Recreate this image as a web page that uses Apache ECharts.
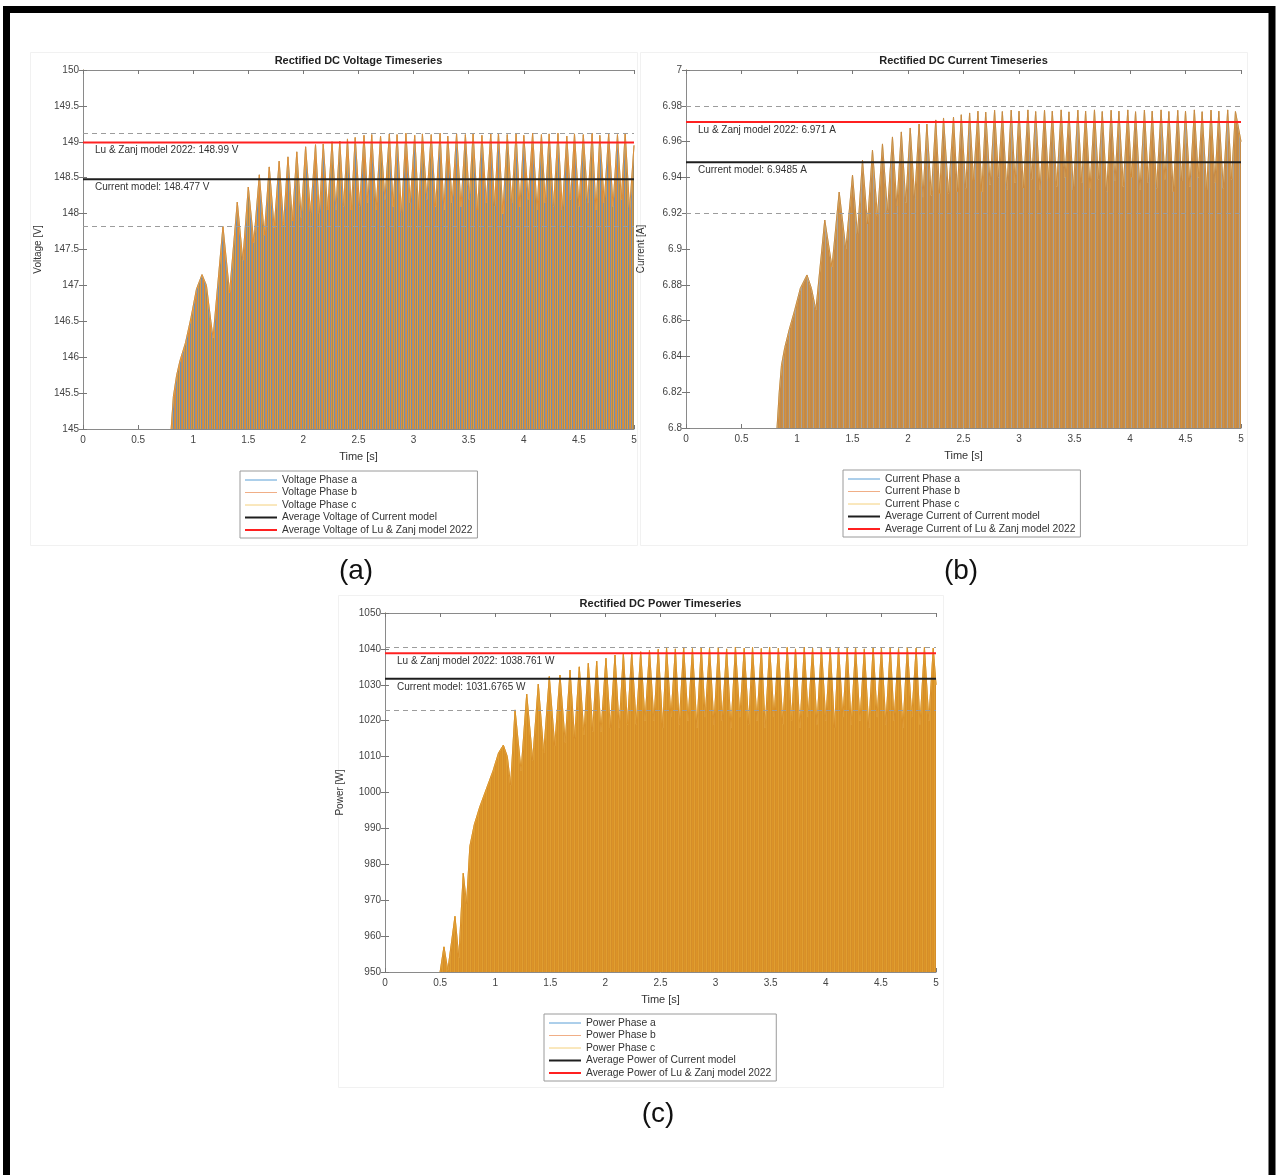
<!DOCTYPE html>
<html><head><meta charset="utf-8">
<script src="https://cdn.jsdelivr.net/npm/echarts@6/dist/echarts.min.js"></script>
<style>html,body{margin:0;padding:0;background:#fff}#c{width:1276px;height:1175px}</style>
</head><body><div id="c"></div><script>
// ---------- DATA ----------
const timeAxis = [0, 5, 0.5];           // min, max, interval
const voltageAxis = [145, 150, 0.5];
const currentAxis = [6.8, 7, 0.02];
const powerAxis = [950, 1050, 10];

const voltageAvg = [148.477, 148.99];   // [Current model, Lu & Zanj 2022]
const currentAvg = [6.9485, 6.971];
const powerAvg = [1031.6765, 1038.761];

const voltageBand = [149.12, 147.83];   // dashed max / min of steady ripple
const currentBand = [6.9777, 6.9168];
const powerBand = [1040.5, 1023.0];

// envelope of the dense three-phase ripple [time s, value]
const voltageEnvelope = [
[0.80,145.00],[0.82,145.45],[0.85,145.75],[0.88,145.95],[0.93,146.20],[0.98,146.55],[1.03,146.95],[1.08,147.15],[1.12,147.00],[1.16,146.50],[1.18,146.27],
[1.27,147.82],[1.33,146.90],[1.40,148.16],[1.45,147.35],[1.50,148.37],[1.55,147.60],[1.60,148.54],[1.645,147.70],[1.69,148.65],[1.735,147.80],[1.78,148.73],[1.82,147.85],[1.86,148.79],[1.90,147.90],[1.94,148.86],[1.98,147.95],[2.02,148.93],[2.065,148.00],[2.11,148.96],[2.145,148.00],[2.18,148.97],[2.22,148.05],[2.26,149.00],[2.295,148.05],[2.33,149.01],[2.365,148.10],[2.40,149.04],[2.435,148.05],
[2.47,149.06],[2.51,148.10],[2.55,149.09],[2.585,148.15],[2.62,149.10],[2.66,148.05],[2.70,149.08],[2.74,148.20],[2.78,149.11],[2.815,148.10],[2.85,149.10],[2.89,148.00],[2.93,149.12],[2.97,148.15],[3.01,149.09],[3.045,148.05],[3.08,149.11],[3.12,148.20],[3.16,149.10],[3.20,148.10],[3.24,149.12],[3.275,148.05],[3.31,149.08],[3.35,148.15],[3.39,149.11],[3.43,148.10],[3.47,149.10],[3.505,148.20],[3.54,149.12],[3.58,148.05],[3.62,149.09],[3.66,148.15],[3.70,149.11],[3.735,148.10],[3.77,149.12],[3.81,148.00],[3.85,149.10],[3.89,148.15],[3.93,149.11],[3.965,148.10],[4.00,149.09],[4.04,148.20],[4.08,149.12],[4.12,148.05],[4.16,149.10],[4.195,148.15],[4.23,149.11],[4.27,148.10],[4.31,149.12],[4.35,148.05],[4.39,149.08],[4.425,148.20],[4.46,149.11],[4.50,148.10],[4.54,149.10],[4.58,148.15],[4.62,149.12],[4.655,148.05],[4.69,149.09],[4.73,148.15],[4.77,149.11],[4.81,148.10],[4.85,149.10],[4.885,148.20],[4.92,149.12],[4.96,148.05],[5.00,148.95]
];
const currentEnvelope = [
[0.82,6.800],[0.84,6.820],[0.86,6.835],[0.89,6.845],[0.93,6.855],[0.98,6.866],[1.03,6.878],[1.09,6.8855],[1.13,6.878],[1.17,6.866],
[1.25,6.9162],[1.315,6.890],[1.38,6.9318],[1.44,6.900],[1.50,6.9413],[1.545,6.908],[1.59,6.9497],[1.635,6.914],[1.68,6.9553],[1.725,6.918],[1.77,6.9587],[1.815,6.921],[1.86,6.9626],[1.90,6.924],[1.94,6.9654],[1.98,6.926],[2.02,6.9676],[2.06,6.928],[2.10,6.9698],[2.135,6.929],[2.17,6.9698],[2.21,6.930],[2.25,6.9721],[2.285,6.931],[2.32,6.9732],[2.365,6.931],[2.41,6.9737],[2.445,6.932],
[2.48,6.9750],[2.52,6.934],[2.555,6.9760],[2.59,6.938],[2.63,6.9770],[2.665,6.932],[2.70,6.9765],[2.74,6.936],[2.78,6.9775],[2.815,6.940],[2.85,6.9768],[2.89,6.933],[2.93,6.9776],[2.965,6.937],[3.00,6.9770],[3.04,6.934],[3.08,6.9777],[3.115,6.939],[3.15,6.9768],[3.19,6.933],[3.23,6.9775],[3.265,6.938],[3.30,6.9770],[3.34,6.935],[3.38,6.9777],[3.415,6.940],[3.45,6.9766],[3.49,6.933],[3.53,6.9776],[3.565,6.937],[3.60,6.9770],[3.64,6.934],[3.68,6.9777],[3.715,6.939],[3.75,6.9768],[3.79,6.932],[3.83,6.9775],[3.865,6.938],[3.90,6.9770],[3.94,6.935],[3.98,6.9777],[4.015,6.940],[4.05,6.9767],[4.09,6.933],[4.13,6.9776],[4.165,6.937],[4.20,6.9770],[4.24,6.934],[4.28,6.9777],[4.315,6.939],[4.35,6.9768],[4.39,6.932],[4.43,6.9775],[4.465,6.938],[4.50,6.9770],[4.54,6.935],[4.58,6.9777],[4.615,6.940],[4.65,6.9767],[4.69,6.933],[4.73,6.9776],[4.765,6.937],[4.80,6.9770],[4.84,6.934],[4.88,6.9777],[4.915,6.939],[4.95,6.9768],[5.00,6.960]
];
const powerEnvelope = [
[0.50,950.0],[0.535,957.0],[0.57,950.5],[0.635,965.5],[0.67,954.0],[0.71,977.5],[0.74,969.0],[0.77,985.0],[0.81,991.0],[0.86,996.0],[0.92,1001.0],[0.98,1006.0],[1.03,1011.0],[1.074,1013.2],[1.11,1010.0],[1.14,1002.0],
[1.18,1023.0],[1.235,1006.0],[1.286,1027.4],[1.34,1009.0],[1.391,1030.2],[1.44,1011.0],[1.491,1032.3],[1.54,1013.0],[1.588,1032.7],[1.635,1014.0],[1.679,1034.1],[1.72,1015.0],[1.763,1035.0],[1.805,1016.0],[1.845,1036.0],[1.885,1017.0],[1.921,1036.6],[1.96,1017.0],[2.005,1037.4],[2.045,1018.0],[2.087,1038.3],[2.125,1018.0],[2.163,1038.8],[2.20,1019.0],[2.239,1039.1],[2.28,1019.0],[2.32,1039.2],[2.36,1020.0],
[2.40,1039.6],[2.44,1020.0],[2.48,1039.9],[2.52,1018.0],[2.555,1040.2],[2.595,1021.0],[2.635,1040.0],[2.67,1019.0],[2.71,1040.4],[2.75,1020.0],[2.79,1040.1],[2.83,1018.0],[2.87,1040.5],[2.905,1021.0],[2.945,1040.2],[2.985,1019.0],[3.025,1040.4],[3.06,1020.0],[3.10,1040.0],[3.14,1018.0],[3.18,1040.5],[3.22,1021.0],[3.26,1040.2],[3.30,1019.0],[3.335,1040.4],[3.375,1020.0],[3.415,1040.1],[3.45,1018.0],[3.49,1040.5],[3.53,1021.0],[3.57,1040.2],[3.61,1019.0],[3.65,1040.4],[3.69,1020.0],[3.725,1040.0],[3.765,1018.0],[3.805,1040.5],[3.84,1021.0],[3.88,1040.2],[3.92,1019.0],[3.96,1040.4],[4.00,1020.0],[4.04,1040.1],[4.08,1018.0],[4.115,1040.5],[4.155,1021.0],[4.195,1040.2],[4.23,1019.0],[4.27,1040.4],[4.31,1020.0],[4.35,1040.0],[4.39,1018.0],[4.43,1040.5],[4.465,1021.0],[4.505,1040.2],[4.545,1019.0],[4.585,1040.4],[4.62,1020.0],[4.66,1040.1],[4.70,1018.0],[4.74,1040.5],[4.78,1021.0],[4.82,1040.2],[4.855,1019.0],[4.895,1040.4],[4.935,1020.0],[4.975,1040.2],[5.00,1030.0]
];

// ---------- STYLE / LAYOUT ----------
const FONT = '"Liberation Sans", Arial, sans-serif';
const panels = [
  {key:'Voltage', unit:'V', env:voltageEnvelope, axis:voltageAxis, avg:voltageAvg, band:voltageBand,
   grid:{left:83, top:70, width:551, height:359}, yName:'Voltage [V]', title:'Rectified DC Voltage Timeseries',
   legend:{left:240, top:471}, tag:'(a)', tagPos:[356,571], frame:[30,52,607,493],
   pattern:['#e08b35','#7891ad','#d8963e','#a08a60','#e39a40','#6d8fb5','#c98f48'], edge:'#d98c3a', blue:'#7fa6cc'},
  {key:'Current', unit:'A', env:currentEnvelope, axis:currentAxis, avg:currentAvg, band:currentBand,
   grid:{left:686, top:70, width:555, height:358}, yName:'Current [A]', title:'Rectified DC Current Timeseries',
   legend:{left:843, top:470}, tag:'(b)', tagPos:[961,571], frame:[640,52,607,493],
   pattern:['#c88a44','#b98a55','#d0903f','#a9a29a','#c48c4a','#d29242'], edge:'#c98a42', blue:'#a9bfd6'},
  {key:'Power', unit:'W', env:powerEnvelope, axis:powerAxis, avg:powerAvg, band:powerBand,
   grid:{left:385, top:613, width:551, height:359}, yName:'Power [W]', title:'Rectified DC Power Timeseries',
   legend:{left:544, top:1014}, tag:'(c)', tagPos:[658,1114], frame:[338,595,605,492],
   pattern:['#dc9428','#d99026','#e09e30','#d48d2a'], edge:'#d99028', blue:'#d99028'}
];
const phaseColors = ['#5b9fd6','#f0ae86','#f4d07c'];
const avgColors = ['#1e1e1e','#ff2020'];

function makePattern(cols){
  const c = document.createElement('canvas'); c.width = cols.length; c.height = 4;
  const g = c.getContext('2d');
  cols.forEach((col,i)=>{ g.fillStyle = col; g.fillRect(i,0,1,4); });
  return c;
}
const fmt = v => String(+(+v).toFixed(4));

const grids=[], xAxes=[], yAxes=[], series=[], legends=[];
const axisGray = '#8a8a8a';
panels.forEach((P,p)=>{
  grids.push(Object.assign({containLabel:false}, P.grid));
  const xBase = {type:'value', gridIndex:p, min:timeAxis[0], max:timeAxis[1], interval:timeAxis[2], splitLine:{show:false},
    axisTick:{inside:true, length:4, lineStyle:{color:'#777'}}, axisLine:{lineStyle:{color:axisGray}}};
  xAxes.push(Object.assign({}, xBase, {position:'bottom', name:'Time [s]', nameLocation:'middle', nameGap:22,
    nameTextStyle:{fontSize:11, color:'#333', fontFamily:FONT},
    axisLabel:{fontSize:10, color:'#444', margin:6, fontFamily:FONT, formatter:fmt}}));
  xAxes.push(Object.assign({}, xBase, {position:'top', axisLabel:{show:false}}));
  yAxes.push({type:'value', gridIndex:p, min:P.axis[0], max:P.axis[1], interval:P.axis[2], splitLine:{show:false},
    position:'left', name:P.yName, nameLocation:'middle', nameGap:40,
    nameTextStyle:{fontSize:10, color:'#333', fontFamily:FONT},
    axisTick:{show:true, inside:true, length:4, lineStyle:{color:'#777'}},
    axisLine:{lineStyle:{color:'#dbb464'}},
    axisLabel:{fontSize:10, color:'#444', margin:4, fontFamily:FONT, formatter:fmt}});
  yAxes.push({type:'value', gridIndex:p, min:P.axis[0], max:P.axis[1], interval:P.axis[2], splitLine:{show:false},
    position:'right', axisTick:{show:true, inside:true, length:4, lineStyle:{color:'#777'}},
    axisLine:{lineStyle:{color:axisGray}}, axisLabel:{show:false}});

  const names = [P.key+' Phase a', P.key+' Phase b', P.key+' Phase c',
    'Average '+P.key+' of Current model', 'Average '+P.key+' of Lu & Zanj model 2022'];
  series.push({name:names[0], type:'line', xAxisIndex:2*p, yAxisIndex:2*p, data:P.env, symbol:'none', showSymbol:false,
    lineStyle:{color:P.blue, width:0.8}, itemStyle:{color:phaseColors[0]},
    areaStyle:{color:{image:makePattern(P.pattern), repeat:'repeat'}, opacity:1, origin:'start'},
    z:2, animation:false,
    markLine:{silent:true, symbol:'none', animation:false, label:{show:false},
      lineStyle:{color:'#9c9c9c', type:[5,4], width:1}, data:P.band.map(v=>({yAxis:v}))}});
  series.push({name:names[2], type:'line', xAxisIndex:2*p, yAxisIndex:2*p, data:P.env, symbol:'none', showSymbol:false,
    lineStyle:{color:phaseColors[2], width:0.8}, itemStyle:{color:phaseColors[2]}, z:3, animation:false});
  series.push({name:names[1], type:'line', xAxisIndex:2*p, yAxisIndex:2*p, data:P.env, symbol:'none', showSymbol:false,
    lineStyle:{color:P.edge, width:1}, itemStyle:{color:phaseColors[1]}, z:4, animation:false});
  P.avg.forEach((v,i)=>{
    series.push({name:names[3+i], type:'line', xAxisIndex:2*p, yAxisIndex:2*p,
      data:[[timeAxis[0],v],[timeAxis[1],v]], symbol:'none', showSymbol:false,
      lineStyle:{color:avgColors[i], width:2}, itemStyle:{color:avgColors[i]}, z:6, animation:false});
  });
  const lw = [1,1,1,2,2];
  const lc = [phaseColors[0], phaseColors[1], phaseColors[2], avgColors[0], avgColors[1]];
  legends.push({data:names.map((n,i)=>({name:n, itemStyle:{opacity:0}, lineStyle:{color:lc[i], width:lw[i], opacity:1}})),
    left:P.legend.left, top:P.legend.top, orient:'vertical', borderColor:'#9a9a9a', borderWidth:1,
    padding:[3,5,2,4], itemWidth:32, itemHeight:8, itemGap:0.5, selectedMode:false, backgroundColor:'#fff',
    itemStyle:{opacity:0},
    textStyle:{fontSize:10.3, color:'#333', fontFamily:FONT, lineHeight:12}});
});

const chart = echarts.init(document.getElementById('c'), null, {renderer:'canvas'});
chart.setOption({backgroundColor:'#fff', animation:false, grid:grids, xAxis:xAxes, yAxis:yAxes, series:series, legend:legends});

const graphics = [];
graphics.push({type:'rect', shape:{x:6.5, y:9.5, width:1265.5, height:1250}, style:{fill:'none', stroke:'#000', lineWidth:7}, z:100});
panels.forEach((P,p)=>{
  graphics.push({type:'rect', shape:{x:P.frame[0]+0.5, y:P.frame[1]+0.5, width:P.frame[2], height:P.frame[3]},
    style:{fill:'none', stroke:'#f1f1f1', lineWidth:1}, z:-1});
  const cx = P.grid.left + P.grid.width/2;
  graphics.push({type:'text', x:cx, y:P.grid.top-9, style:{text:P.title, font:'bold 11px '+FONT, fill:'#222',
    textAlign:'center', textVerticalAlign:'middle', align:'center', verticalAlign:'middle'}, z:50});
  graphics.push({type:'text', x:P.tagPos[0], y:P.tagPos[1], style:{text:P.tag, font:'28px '+FONT, fill:'#111',
    textAlign:'center', textVerticalAlign:'middle', align:'center', verticalAlign:'middle'}, z:50});
  const labels = ['Current model: '+P.avg[0]+' '+P.unit, 'Lu & Zanj model 2022: '+P.avg[1]+' '+P.unit];
  P.avg.forEach((v,i)=>{
    const pt = chart.convertToPixel({xAxisIndex:2*p, yAxisIndex:2*p}, [timeAxis[0], v]);
    graphics.push({type:'text', x:pt[0]+12, y:pt[1]+3, style:{text:labels[i], font:'10px '+FONT, fill:'#333',
      textAlign:'left', textVerticalAlign:'top', align:'left', verticalAlign:'top'}, z:50});
  });
});
chart.setOption({graphic:graphics});
</script></body></html>
